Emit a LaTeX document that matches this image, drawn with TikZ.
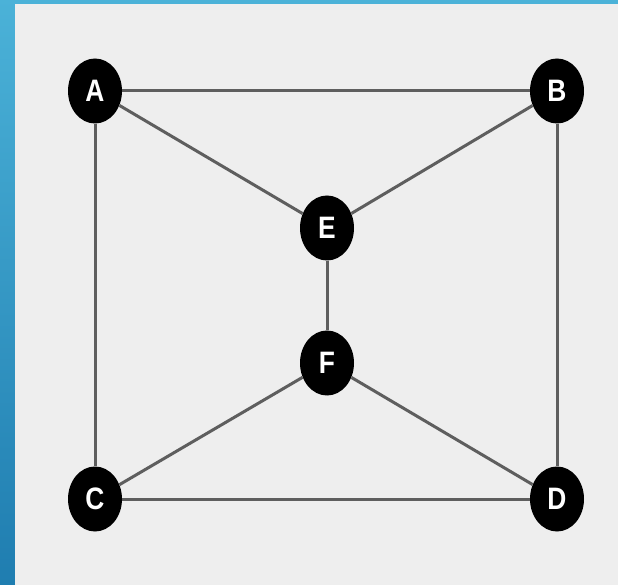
\documentclass[tikz,border=0pt]{standalone}
\usepackage{fontspec}
\setmainfont{Liberation Sans}
\usetikzlibrary{shapes.geometric}
\definecolor{bgray}{HTML}{EEEEEE}
\definecolor{btop}{HTML}{4BB2D8}
\definecolor{bbot}{HTML}{1F7DB0}
\definecolor{edgec}{HTML}{5E5E5E}
\tikzset{
  vert/.style={ellipse, fill=black, minimum width=54pt, minimum height=65pt, inner sep=0pt,
    text=white, font=\fontsize{31}{31}\selectfont\bfseries},
  edge/.style={draw=edgec, line width=3pt}
}
\newcommand{\vlab}[1]{\scalebox{0.85}[1]{#1}}
\begin{document}
\begin{tikzpicture}[x=1pt,y=1pt]
\useasboundingbox (0,0) rectangle (618,584);
\shade[top color=btop, bottom color=bbot] (-2,-2) rectangle (620,586);
\fill[bgray] (15,-2) rectangle (620,580);
\node[vert] (A) at (95,493) {\vlab{A}};
\node[vert] (B) at (557,493) {\vlab{B}};
\node[vert] (E) at (327,356) {\vlab{E}};
\node[vert] (F) at (327,221) {\vlab{F}};
\node[vert] (C) at (95,85) {\vlab{C}};
\node[vert] (D) at (557,85) {\vlab{D}};
\draw[edge] (A) -- (B);
\draw[edge] (A) -- (E);
\draw[edge] (B) -- (E);
\draw[edge] (E) -- (F);
\draw[edge] (F) -- (C);
\draw[edge] (F) -- (D);
\draw[edge] (C) -- (D);
\draw[edge] (A) -- (C);
\draw[edge] (B) -- (D);
\end{tikzpicture}
\end{document}
